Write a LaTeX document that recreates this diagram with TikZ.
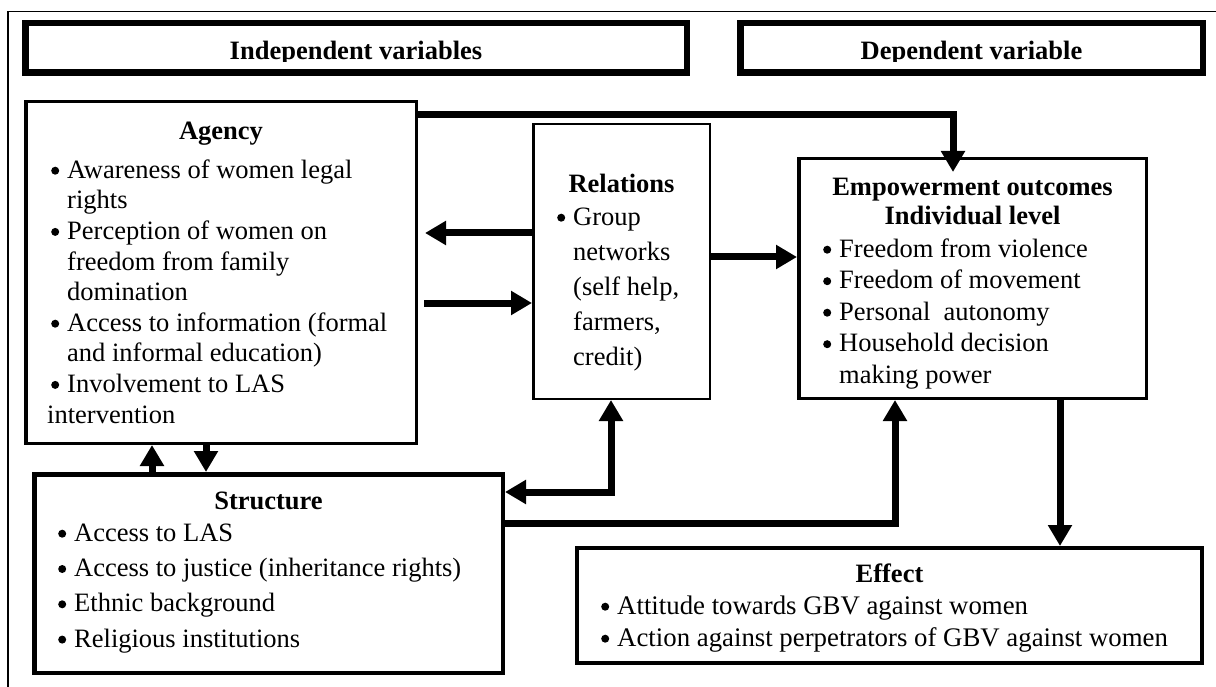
\documentclass[tikz,border=0pt]{standalone}
\usepackage{fontspec}
\setmainfont{Liberation Serif}
\usetikzlibrary{arrows.meta}
\newcommand{\fl}{\rule{0pt}{20pt}}
\newcommand{\bdot}{\tikz[baseline=0pt]\fill (0pt,7.5pt) circle[radius=4pt];}
\newcommand{\bul}{\llap{\bdot\hspace{8pt}}}
\begin{document}
\begin{tikzpicture}[x=1pt,y=-1pt,
  box/.style={draw, inner sep=0pt, rectangle},
  txt/.style={inner sep=0pt, font=\fontsize{26.5}{31}\selectfont},
  ttl/.style={inner sep=0pt, font=\fontsize{26.5}{31}\selectfont\bfseries},
  arr/.style={line width=7pt, -{Triangle[length=21pt,width=23pt]}},
  darr/.style={line width=7pt, {Triangle[length=21pt,width=23pt]}-{Triangle[length=21pt,width=23pt]}}]
\useasboundingbox (0,0) rectangle (1216,687);
% frame
\draw[line width=1.3pt] (8,687) -- (8,11.5) -- (1216,11.5);
% headers
\node[box, line width=6.5pt, minimum width=661.5pt, minimum height=49.5pt] (h1) at (356,48) {};
\node[box, line width=6.5pt, minimum width=462.5pt, minimum height=49.5pt] (h2) at (971.5,48) {};
\begin{scope}
\clip (0,0) rectangle (1216,61.5);
\node[ttl, anchor=base] (h1t) at (356,60) {Independent variables};
\node[ttl, anchor=base] (h2t) at (971.5,60) {Dependent variable};
\end{scope}
% agency
\node[box, line width=3.5pt, minimum width=390.5pt, minimum height=341.5pt] (ag) at (221,272.5) {};
\node[ttl, anchor=base] (agt) at (221,140) {Agency};
\node[txt, align=left, anchor=north west, font=\fontsize{26.5}{30.6}\selectfont] (agi) at (67,158)
 {\fl\bul Awareness of women legal\\rights\\\bul Perception of women on\\freedom from family\\domination\\\bul Access to information (formal\\and informal education)\\\bul Involvement to LAS\\\hspace*{-20pt}intervention};
% relations
\node[box, line width=2.5pt, minimum width=176.5pt, minimum height=274.5pt] (rel) at (621.5,261.5) {};
\node[ttl, anchor=base] (relt) at (621.5,193) {Relations};
\node[txt, align=left, anchor=north west, font=\fontsize{26.5}{35}\selectfont] (reli) at (573,205)
 {\fl\bul Group\\networks\\(self help,\\farmers,\\credit)};
% empowerment
\node[box, line width=3.5pt, minimum width=347.5pt, minimum height=239.5pt] (em) at (972.5,278.5) {};
\node[ttl, align=center, anchor=north, font=\fontsize{26.5}{29}\selectfont\bfseries] (emt) at (972.5,175)
 {\fl Empowerment outcomes\\Individual level};
\node[txt, align=left, anchor=north west, font=\fontsize{26.5}{31.5}\selectfont] (emi) at (839,237)
 {\fl\bul Freedom from violence\\\bul Freedom of movement\\\bul Personal\ \ autonomy\\\bul Household decision\\making power};
% structure
\node[box, line width=4.5pt, minimum width=468.5pt, minimum height=198.5pt] (st) at (268.5,573.5) {};
\node[ttl, anchor=base] (stt) at (268.5,509) {Structure};
\node[txt, align=left, anchor=north west, font=\fontsize{26.5}{35.3}\selectfont] (sti) at (74,521)
 {\fl\bul Access to LAS\\\bul Access to justice (inheritance rights)\\\bul Ethnic background\\\bul Religious institutions};
% effect
\node[box, line width=4pt, minimum width=625pt, minimum height=115pt] (ef) at (889.5,605.5) {};
\node[ttl, anchor=base] (eft) at (889.5,582) {Effect};
\node[txt, align=left, anchor=north west, font=\fontsize{26.8}{32}\selectfont] (efi) at (617,594)
 {\fl\bul Attitude towards GBV against women\\\bul Action against perpetrators of GBV against women};
% connectors
\coordinate (t1) at ([yshift=-15pt]ag.north east);
\coordinate (t2) at ([xshift=-19.5pt,yshift=-15pt]em.north);
\draw[arr] (t1) -| (t2);
\coordinate (r1) at ([yshift=28.5pt]rel.west);
\coordinate (a1) at (ag.east |- r1);
\draw[arr] (r1) -- ([xshift=7pt]a1);
\coordinate (r2) at ([yshift=-41.5pt]rel.west);
\coordinate (a2) at (ag.east |- r2);
\draw[arr] ([xshift=6pt]a2) -- (r2);
\coordinate (r3) at ([yshift=4.5pt]rel.east);
\draw[arr] (r3) -- (r3 -| em.west);
\coordinate (r4) at ([xshift=-10.5pt]rel.south);
\coordinate (s1) at ([yshift=81.5pt]st.east);
\draw[darr] (r4) |- (s1);
\coordinate (s2) at ([yshift=50.5pt]st.east);
\coordinate (e2) at ([xshift=-77.5pt]em.south);
\draw[arr] (s2) -| (e2);
\coordinate (e3) at ([xshift=87.5pt]em.south);
\draw[arr] (e3) -- (e3 |- ef.north);
\coordinate (s3) at ([xshift=-116.5pt]st.north);
\draw[arr] (s3) -- (s3 |- ag.south);
\coordinate (a3) at ([xshift=-15pt]ag.south);
\draw[arr] (a3) -- (a3 |- st.north);
\end{tikzpicture}
\end{document}
